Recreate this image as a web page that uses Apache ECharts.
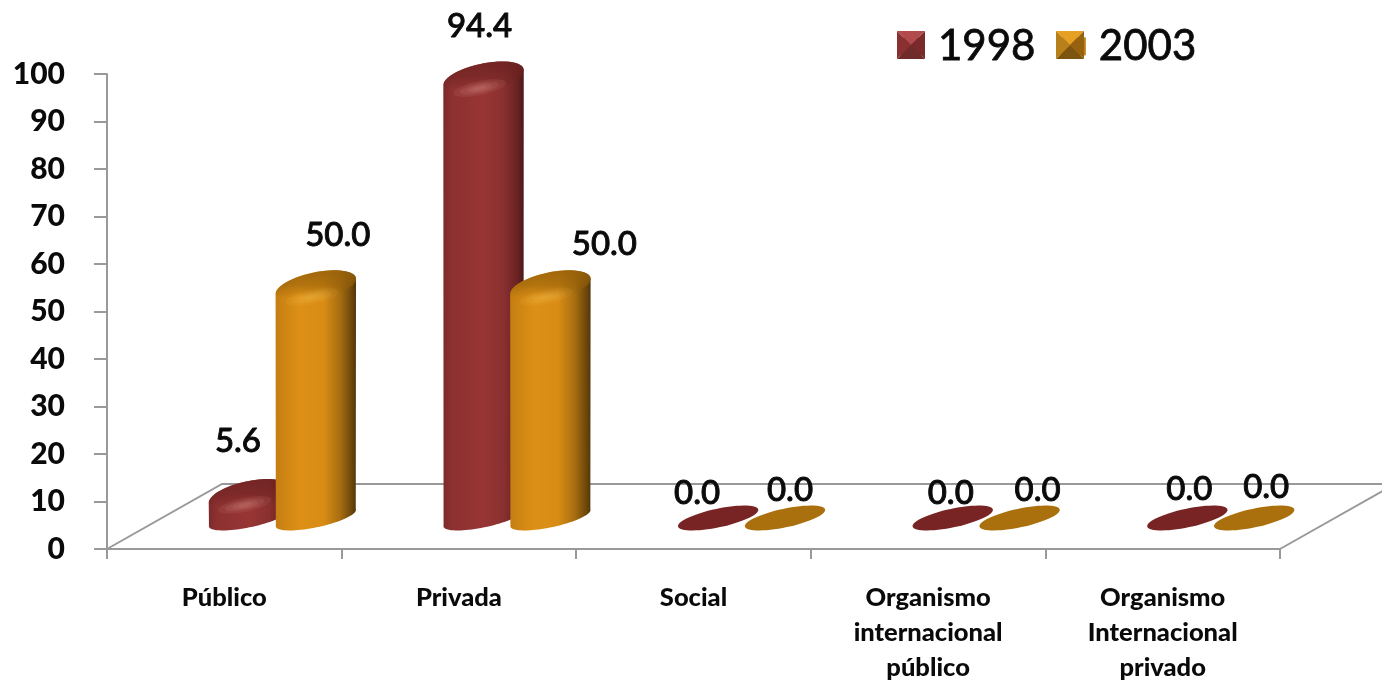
<!DOCTYPE html>
<html><head><meta charset="utf-8">
<style>html,body{margin:0;padding:0;background:#fff}#c{width:1382px;height:680px}</style>
<script src="https://cdn.jsdelivr.net/npm/echarts@6/dist/echarts.min.js"></script>
</head><body><div id="c"></div>
<script>
const categories = ['Público','Privada','Social','Organismo\ninternacional\npúblico','Organismo\nInternacional\nprivado'];
const values1998 = [5.6, 94.4, 0, 0, 0];
const values2003 = [50, 50, 0, 0, 0];
const yTicks = {min:0, max:100, interval:10};

const labelNudge1998 = [[-11,-50],[-4,-48],[-21,-25],[-2,-25],[2,-29]];
const labelNudge2003 = [[22,-48],[54,-39],[5,-28],[18,-28],[12,-31]];

const red = {
  body:[[0,'#7d2a2a'],[0.1,'#8c3030'],[0.5,'#983535'],[0.75,'#8a3030'],[0.92,'#6a2222'],[1,'#4c1818']],
  cap:'110,34,34', flat:'#782424', glow:'255,200,190'
};
const orange = {
  body:[[0,'#c47e12'],[0.3,'#dd9015'],[0.6,'#d88c14'],[0.8,'#a86e10'],[0.95,'#6b460a'],[1,'#523608']],
  cap:'150,96,10', flat:'#ab700e', glow:'255,215,120'
};
const A=41,B=9.3,DOME=14,TH=12*Math.PI/180,DEPTH=31,SCALE=0.99;

function ell(cx,cy,a,b,from,to,n){
  const pts=[];
  for(let i=0;i<=n;i++){
    const t=from+(to-from)*i/n;
    pts.push([cx+a*Math.cos(t)*Math.cos(TH)-b*Math.sin(t)*Math.sin(TH),
              cy-a*Math.cos(t)*Math.sin(TH)-b*Math.sin(t)*Math.cos(TH)]);
  }
  return pts;
}
function stops(list){return list.map(s=>({offset:s[0],color:s[1]}));}

function cylinderRenderer(pal,offsetFrac,nudge){
  return function(params,api){
    const cat=api.value(0),v=api.value(1);
    const band=api.size([1,0])[0];
    const p0=api.coord([cat,0]);
    const cx=p0[0]+band*offsetFrac, base=p0[1]-DEPTH;
    const h=api.size([0,v])[1]*SCALE, top=base-h;
    const children=[];
    if(v>0){
      const tipT=(a,b)=>Math.atan2(b*Math.sin(TH),a*Math.cos(TH));
      const t1=tipT(A,DOME), t0=tipT(A,B);
      const upper=ell(cx,top+3.5,A,DOME,-t1,Math.PI-t1,40);
      const lower=ell(cx,base,A,B,Math.PI+t0,2*Math.PI+t0,40);
      children.push({type:'polygon',shape:{points:upper.concat(lower)},
        style:{fill:{type:'linear',x:0,y:0,x2:1,y2:0,colorStops:stops(pal.body)}}});
      children.push({type:'polygon',shape:{points:ell(cx,top+3.5,A,DOME,0,2*Math.PI,60)},
        style:{fill:{type:'linear',x:0,y:0,x2:0,y2:1,colorStops:stops([
          [0,'rgba('+pal.cap+',0.85)'],[0.45,'rgba('+pal.cap+',0.6)'],[0.85,'rgba('+pal.cap+',0)'],[1,'rgba('+pal.cap+',0)']])}}});
      const glowY=top+Math.min(14,h*0.5);
      [[27,7],[20,5],[13,3.5],[7,2]].forEach(r=>{
        children.push({type:'polygon',shape:{points:ell(cx-4,glowY,r[0],r[1],0,2*Math.PI,36)},
          style:{fill:'rgba('+pal.glow+',0.08)'}});
      });
    } else {
      children.push({type:'polygon',shape:{points:ell(cx,base,A,B,0,2*Math.PI,60)},style:{fill:pal.flat}});
    }
    const n=nudge[cat];
    children.push({type:'text',z2:50,style:{text:v.toFixed(1),x:cx+n[0],y:top+n[1],align:'center',verticalAlign:'middle',
      font:'500 33px Lato',fill:'#0a0a0a',stroke:'#0a0a0a',lineWidth:0.9}});
    return {type:'group',children};
  };
}
function floorRenderer(params,api){
  const s=params.coordSys, L=s.x, R=s.x+s.width, Y=s.y+s.height;
  const dx=115, dy=65;
  const line={stroke:'#999',lineWidth:2,fill:null};
  return {type:'group',children:[
    {type:'polyline',shape:{points:[[L,Y],[L+dx,Y-dy],[R+dx,Y-dy]]},style:line},
    {type:'line',shape:{x1:R,y1:Y,x2:R+dx,y2:Y-dy},style:line}
  ]};
}
// bevel facets laid over each legend swatch
function swatch(left,top,size,cols){
  const c=[left+size/2,top+size/2], r=left+size, b=top+size;
  const tri=(p,fill)=>({type:'polygon',shape:{points:[...p,c]},style:{fill}});
  return [tri([[left,top],[r,top]],cols[0]),tri([[r,top],[r,b]],cols[1]),
          tri([[r,b],[left,b]],cols[2]),tri([[left,b],[left,top]],cols[3])];
}
const toData=a=>a.map((v,i)=>[i,v]);
const chart=echarts.init(document.getElementById('c'),null,{renderer:'canvas'});
const axisLine={lineStyle:{color:'#999',width:2}};
chart.setOption({
  animation:false,backgroundColor:'#fff',
  grid:{left:107,right:102,top:74,bottom:131,containLabel:false,outerBoundsMode:'none'},
  xAxis:{type:'category',data:categories,axisLine:{show:true,...axisLine},
    axisTick:{show:true,length:10,alignWithLabel:false,lineStyle:{color:'#999',width:2}},
    axisLabel:{interval:0,margin:31,fontFamily:'Lato',fontWeight:900,fontSize:25.5,color:'#0a0a0a',lineHeight:35,verticalAlign:'top',hideOverlap:false},
    splitLine:{show:false}},
  yAxis:{type:'value',...yTicks,axisLine:{show:true,...axisLine},
    axisTick:{show:true,length:13,lineStyle:{color:'#999',width:2}},
    axisLabel:{margin:42,fontFamily:'Lato',fontWeight:900,fontSize:30,color:'#0a0a0a'},
    splitLine:{show:false}},
  legend:{left:897,top:25,padding:0,itemWidth:28,itemHeight:18,itemGap:22,icon:'rect',
    textStyle:{fontFamily:'Lato',fontSize:42,color:'#0a0a0a',padding:[0,0,0,8],textBorderColor:'#0a0a0a',textBorderWidth:0.8},
    data:[{name:'1998',itemStyle:{color:'#8a3030'}},{name:'2003',itemStyle:{color:'#c08016'}}]},
  graphic:[...swatch(897,31,28,['#b24c4c','#7a2a2a','#6f2a2a','#8a3030']),
           ...swatch(1056,31,28,['#e6a024','#96620f','#7c5410','#b8801a'])].map(g=>({...g,z:100,silent:true})),
  series:[
    {type:'custom',silent:true,z:1,clip:false,renderItem:floorRenderer,data:[[0,0]],encode:{x:0,y:1}},
    {type:'custom',name:'1998',z:3,clip:false,renderItem:cylinderRenderer(red,0.105,labelNudge1998),
      data:toData(values1998),encode:{x:0,y:1},itemStyle:{color:'#8a3030'}},
    {type:'custom',name:'2003',z:4,clip:false,renderItem:cylinderRenderer(orange,0.39,labelNudge2003),
      data:toData(values2003),encode:{x:0,y:1},itemStyle:{color:'#c08016'}}
  ]
});
</script></body></html>
